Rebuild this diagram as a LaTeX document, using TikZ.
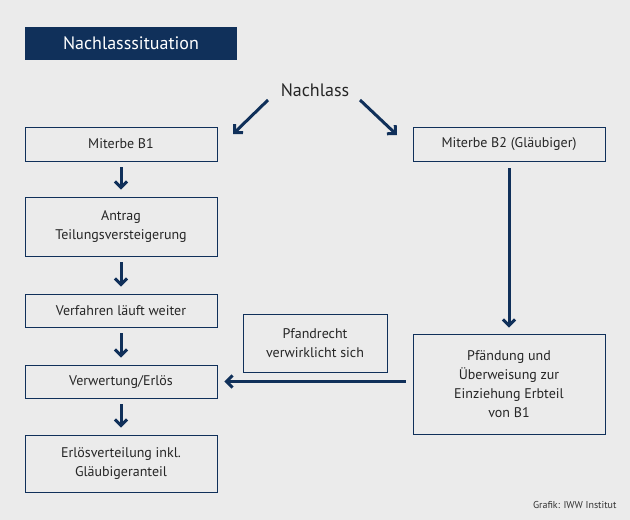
\documentclass[tikz,border=0pt]{standalone}
\usepackage{fontspec}
\setmainfont{PT Sans}
\usetikzlibrary{arrows.meta,positioning}
\definecolor{navy}{HTML}{10305A}
\definecolor{bg}{HTML}{EBEBEB}
\begin{document}
\begin{tikzpicture}[x=1pt,y=-1pt,
  arr/.style={draw=navy,line width=3pt,-{Straight Barb[length=6pt,width=12pt]}},
  box/.style={draw=navy,line width=0.8pt,fill=bg,align=center,font=\fontsize{14}{19}\selectfont,inner sep=0pt,text=black!85}]
	\fill[bg] (0,0) rectangle (630,520);
	\node [fill=navy,text=white,minimum width=212,minimum height=33,inner sep=0pt,font=\fontsize{18}{20}\selectfont] (title) at (131,43.5) {Nachlasssituation};
	\node [font=\fontsize{18}{20}\selectfont,text=black!85] (nachlass) at (315,90) {Nachlass};
	
	\node [box,minimum width=192,minimum height=34] (b1) at (121,144) {Miterbe B1};
	\node [box,minimum width=192,minimum height=59] (antrag) at (121,226.5) {Antrag\\Teilungsversteigerung};
	\node [box,minimum width=192,minimum height=33] (verf) at (121,310.5) {Verfahren läuft weiter};
	\node [box,minimum width=192,minimum height=33] (verw) at (121,381.5) {Verwertung/Erlös};
	\node [box,minimum width=192,minimum height=57] (erloes) at (121,463.5) {Erlösverteilung inkl.\\Gläubigeranteil};
	\node [box,minimum width=192,minimum height=34] (b2) at (509,144) {Miterbe B2 (Gläubiger)};
	\node [box,minimum width=192,minimum height=100] (pfaend) at (509,384) {Pfändung und\\Überweisung zur\\Einziehung Erbteil\\von B1};
	\node [box,minimum width=144,minimum height=58] (pfand) at (315,343) {Pfandrecht\\verwirklicht sich};
	\node [font=\fontsize{10}{12}\selectfont,text=black!80,anchor=east] (quelle) at (620,505) {Grafik: IWW Institut};
	
	\coordinate (n1) at (268,100);
	\coordinate (n2) at (360,100);
	\draw [arr] (n1) to (233,134);
	\draw [arr] (n2) to (397,135);
	\draw [arr] ([yshift=-6]b1.south) to ([yshift=7]antrag.north);
	\draw [arr] ([yshift=-6]antrag.south) to ([yshift=7]verf.north);
	\draw [arr] ([yshift=-6]verf.south) to ([yshift=7]verw.north);
	\draw [arr] ([yshift=-6]verw.south) to ([yshift=7]erloes.north);
	\draw [arr] ([yshift=-7]b2.south) to ([yshift=6]pfaend.north);
	\draw [arr] ([xshift=-7]pfaend.west |- verw) to ([xshift=7]verw.east);
\end{tikzpicture}
\end{document}
